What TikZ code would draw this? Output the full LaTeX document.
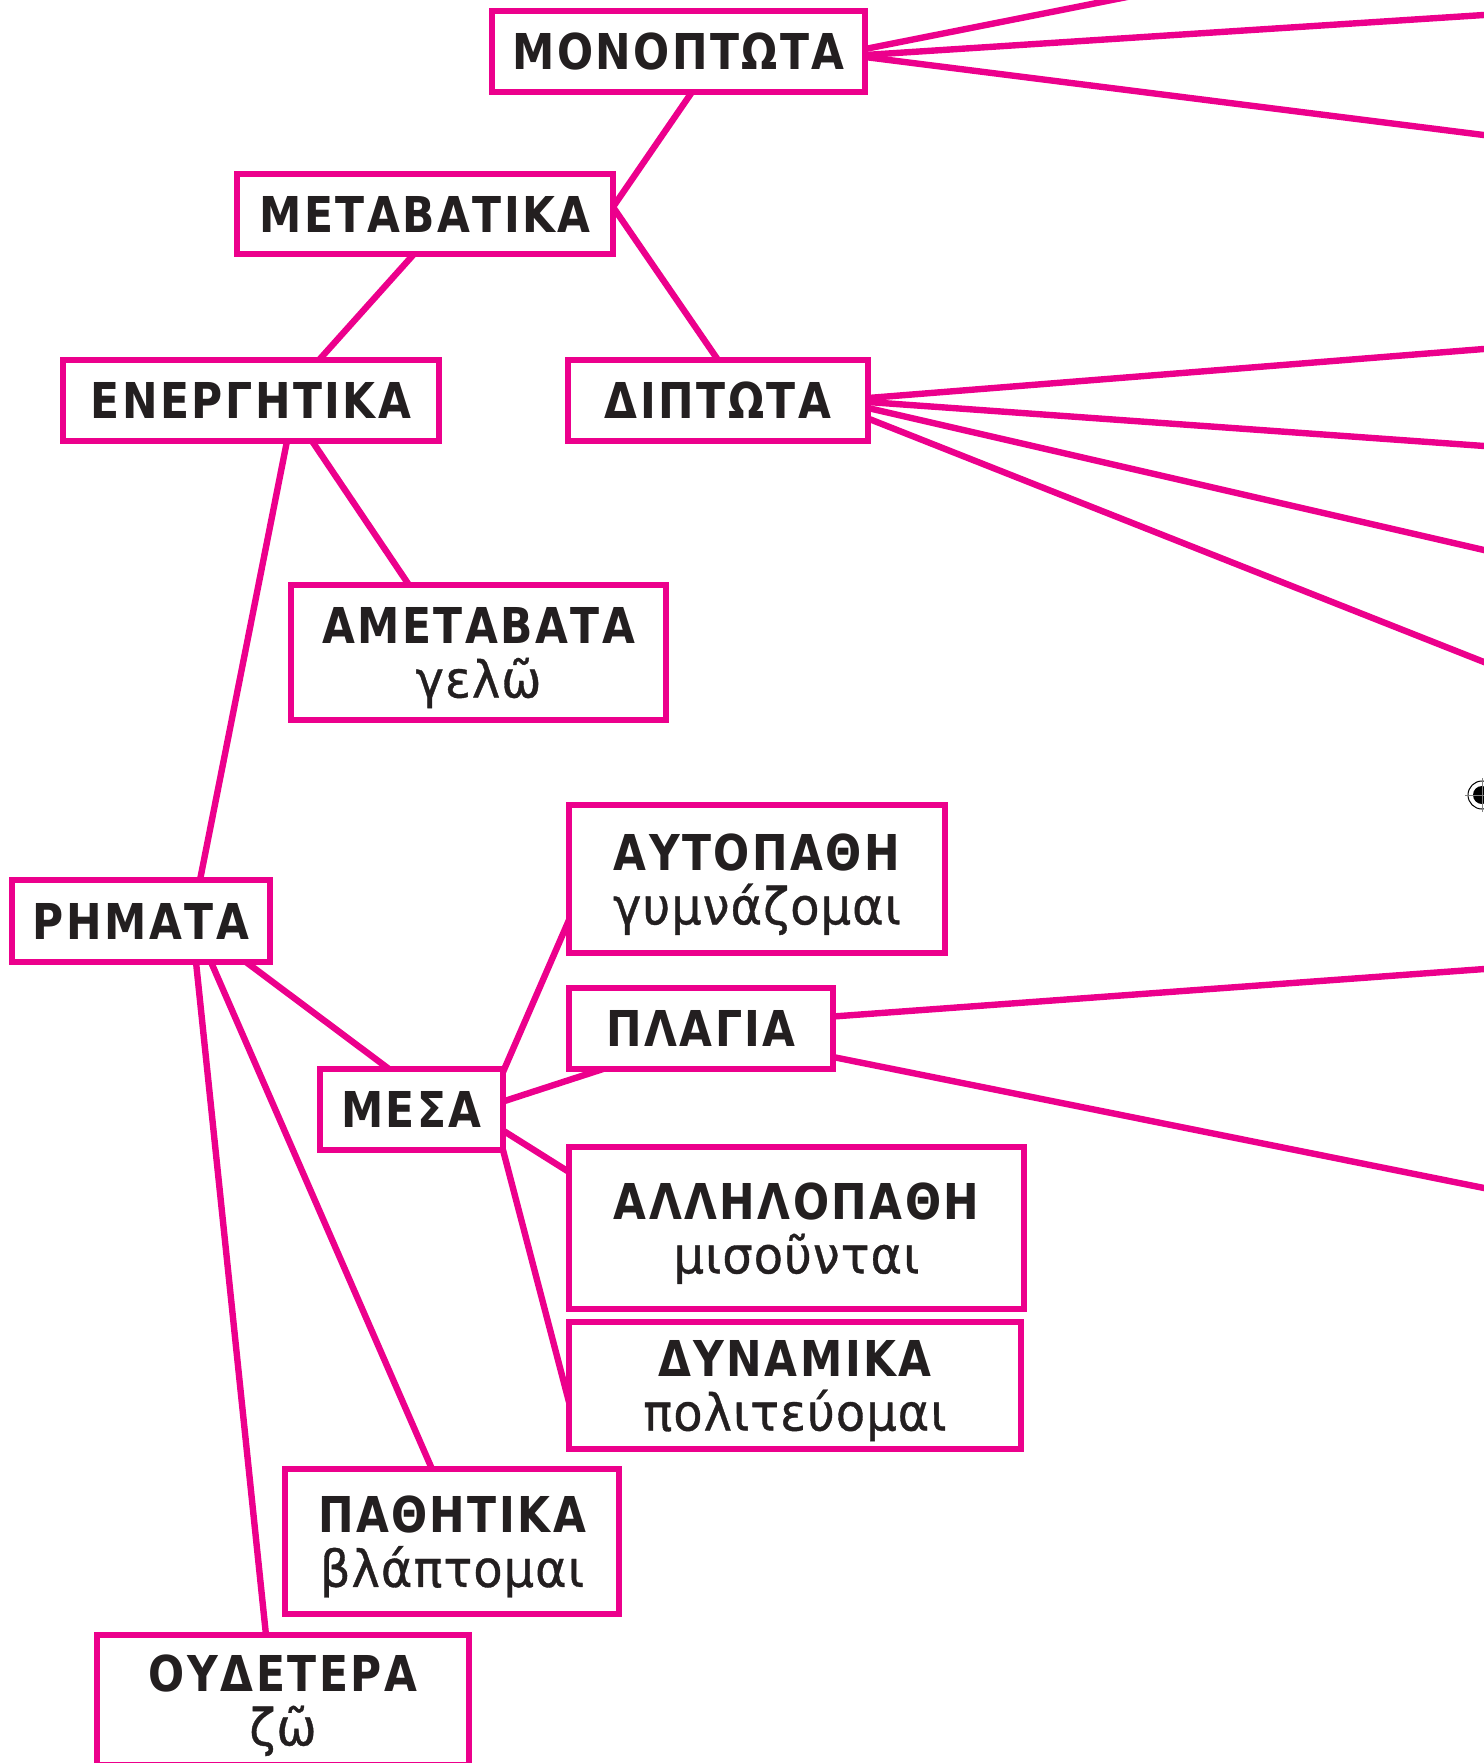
\documentclass[tikz,border=0pt]{standalone}
\usepackage{fontspec}
\setmainfont{DejaVu Sans}[FakeStretch=0.86,LetterSpace=5]
\newfontfamily\lowfont{DejaVu Sans}[FakeStretch=0.94,LetterSpace=2,FakeBold=0.7]
\usetikzlibrary{calc,backgrounds}
\definecolor{mag}{HTML}{EC008C}
\definecolor{ink}{HTML}{231F20}
\newcommand{\low}[1]{\smash{\lowfont\fontsize{25.5}{27}\selectfont #1}}
\begin{document}
\begin{tikzpicture}[x=0.5pt,y=-0.5pt,
  box/.style 2 args={draw=mag, line width=3.2pt, fill=white, inner sep=0pt, outer sep=0pt,
    minimum width=#1*0.5pt, minimum height=#2*0.5pt, text=ink, align=center,
    font=\fontsize{24.7}{27}\selectfont},
  link/.style={draw=mag, line width=3.2pt}]
\useasboundingbox (0,0) rectangle (1484,1763);
\clip (0,0) rectangle (1484,1763);

% boxes
\node[box={373}{81}]  (mono)  at (678.5,51.5)  {\bfseries ΜΟΝΟΠΤΩΤΑ};
\node[box={376}{80}]  (meta)  at (425,214)     {\bfseries ΜΕΤΑΒΑΤΙΚΑ};
\node[box={376}{81}]  (ener)  at (251,400.5)   {\bfseries ΕΝΕΡΓΗΤΙΚΑ};
\node[box={300}{81}]  (dipt)  at (718,400.5)   {\bfseries ΔΙΠΤΩΤΑ};
\node[box={375}{135}] (amet)  at (478.5,652.5) {\bfseries ΑΜΕΤΑΒΑΤΑ\\\low{γελῶ}};
\node[box={258}{82}]  (rhm)   at (141,921)     {\bfseries ΡΗΜΑΤΑ};
\node[box={183}{81}]  (mesa)  at (411.5,1109.5){\bfseries ΜΕΣΑ};
\node[box={376}{148}] (auto)  at (757,879)     {\bfseries ΑΥΤΟΠΑΘΗ\\\low{γυμνάζομαι}};
\node[box={264}{81}]  (plag)  at (701,1028.5)  {\bfseries ΠΛΑΓΙΑ};
\node[box={455}{162}] (allh)  at (796.5,1228)  {\bfseries ΑΛΛΗΛΟΠΑΘΗ\\\low{μισοῦνται}};
\node[box={452}{127}] (dyna)  at (795,1385.5)  {\bfseries ΔΥΝΑΜΙΚΑ\\\low{πολιτεύομαι}};
\node[box={334}{145}] (path)  at (452,1541.5)  {\bfseries ΠΑΘΗΤΙΚΑ\\\low{βλάπτομαι}};
\node[box={372}{130}] (oudet) at (283,1700)    {\bfseries ΟΥΔΕΤΕΡΑ\\\low{ζῶ}};

% free ends
\coordinate (mA) at (1132,-4);
\coordinate (mB) at (1490,14.6);
\coordinate (mC) at (1490,135.8);
\coordinate (dA) at (1490,348.5);
\coordinate (dB) at (1490,446.4);
\coordinate (dC) at (1490,551.4);
\coordinate (dD) at (1490,664.4);
\coordinate (pA) at (1490,968.6);
\coordinate (pB) at (1490,1189.2);

\begin{scope}[on background layer]
\draw[link] ($(mono.east)+(0,-2.5)$) -- (mA);
\draw[link] ($(mono.east)+(0,3.5)$) -- (mB);
\draw[link] ($(mono.east)+(0,5.5)$) -- (mC);
\draw[link] ($(mono.south)+(13.5,0)$) -- ($(meta.east)+(0,-7)$);
\draw[link] ($(meta.east)+(0,-7)$) -- (dipt.north);
\draw[link] ($(meta.south)+(-11,0)$) -- ($(ener.north)+(68,0)$);
\draw[link] ($(ener.south)+(61,0)$) -- ($(amet.north)+(-69.5,0)$);
\draw[link] ($(ener.south)+(36,0)$) -- ($(rhm.north)+(59,0)$);
\draw[link] ($(dipt.east)+(0,-2.5)$) -- (dA);
\draw[link] ($(dipt.east)+(0,1.5)$) -- (dB);
\draw[link] ($(dipt.east)+(0,7.5)$) -- (dC);
\draw[link] ($(dipt.east)+(0,18)$) -- (dD);
\draw[link] ($(rhm.south)+(105,0)$) -- ($(mesa.north)+(-22.5,0)$);
\draw[link] ($(rhm.south)+(70,0)$) -- ($(path.north)+(-20,0)$);
\draw[link] ($(rhm.south)+(55,0)$) -- ($(oudet.north)+(-17,0)$);
\draw[link] ($(mesa.north east)+(0,3)$) -- ($(auto.west)+(0,41)$);
\draw[link] ($(mesa.east)+(0,-8)$) -- ($(plag.south)+(-98,0)$);
\draw[link] ($(mesa.east)+(0,21)$) -- ($(allh.west)+(0,-56)$);
\draw[link] (mesa.south east) -- ($(dyna.west)+(0,16.5)$);
\draw[link] ($(plag.east)+(0,-12)$) -- (pA);
\draw[link] ($(plag.east)+(0,28.5)$) -- (pB);
\end{scope}

% registration mark
\begin{scope}[shift={(1482,795)}]
\fill[black] (0,0) circle[radius=4.5pt];
\draw[black, line width=0.5pt] (0,0) circle[radius=7pt];
\draw[gray, line width=0.5pt] (-17,0) -- (17,0) (0,-17) -- (0,17);
\end{scope}
\end{tikzpicture}
\end{document}
